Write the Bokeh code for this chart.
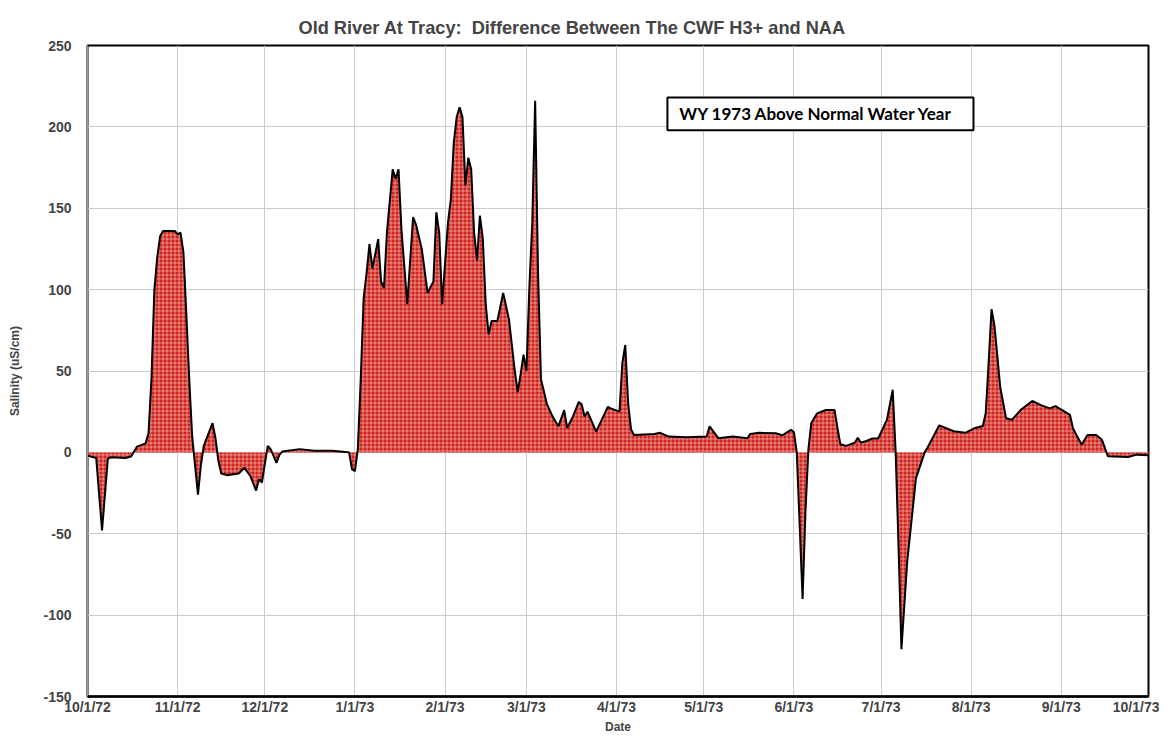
import pandas as pd
from bokeh.plotting import figure
from bokeh.models import FixedTicker, BoxAnnotation, Label, Range1d
from bokeh.embed import file_html
from bokeh.resources import INLINE

# ---- data -------------------------------------------------------------
wy_start = "1972-10-01"
# day offsets from 10/1/72 and salinity difference (uS/cm)
day_offset = [0, 3, 5, 7, 8, 13, 15, 17, 20, 21, 22, 23, 24, 25, 26, 30, 31, 32, 33,
              34, 35, 36, 38, 39, 40, 43, 44, 45, 46, 48, 52, 54, 56, 58, 59, 60, 62,
              63, 65, 66, 67, 73, 78, 84, 87, 90, 91, 92, 93, 94, 95, 96, 97, 98, 100,
              101, 102, 103, 105, 106, 107, 108, 110, 112, 113, 115, 117, 119, 120, 121,
              122, 124, 125, 126, 127, 128, 129, 130, 131, 132, 133, 134, 135, 136, 137,
              138, 139, 141, 143, 145, 147, 148, 149, 150, 151, 152, 153, 154, 155, 156,
              158, 160, 162, 164, 165, 167, 169, 170, 171, 172, 175, 179, 180, 183, 184,
              185, 186, 187, 188, 195, 197, 200, 206, 213, 214, 217, 222, 227, 228, 231,
              237, 239, 242, 243, 244, 246, 247, 248, 249, 251, 254, 257, 258, 259, 261,
              264, 265, 266, 268, 270, 272, 275, 277, 278, 279, 280, 282, 285, 288, 289,
              293, 298, 302, 305, 308, 309, 310, 311, 312, 314, 316, 318, 321, 325, 328,
              331, 333, 338, 339, 342, 344, 347, 349, 351, 358, 361, 365]
salinity_diff = [-2, -3.5, -48, -4, -3, -3.5, -2.5, 3.5, 5.5, 12, 45, 100, 120, 133, 136, 136, 134, 135, 123,
                 85, 45, 10, -26, -8, 4, 18, 9, -5, -13, -14, -13, -9.5, -14.5, -23.5, -16.5, -18.5, 4,
                 2, -6.5, -1.5, 0.5, 2, 1, 1, 0.5, 0, -10.5, -11.5, 2, 45, 95, 110, 128, 113, 131,
                 105, 101, 135, 174, 168, 174, 137, 91, 144.5, 140, 125, 98, 105, 147.5, 135,
                 91, 141, 155.6, 190, 206, 212, 206, 164, 181, 174, 135, 118, 145.5, 131, 91,
                 72.5, 80.7, 80.7, 98, 81.6, 50, 37, 48, 60, 50, 101, 141, 216, 110, 45,
                 30, 22, 16, 26, 15, 22, 31, 29.6, 22, 25, 12.8, 28, 27, 25, 55,
                 66, 30, 14, 10.7, 11.3, 12, 9.7, 9.3, 9.7, 16, 8.7, 9.7, 8.7, 11.3, 12,
                 11.7, 10.5, 13.8, 12.5, 0, -90, -36, 2, 18, 24, 26, 26, 15, 5, 4,
                 6, 9, 6, 7, 8.5, 8.5, 20, 38.5, 1, -57, -121, -67, -16, 0, 3,
                 16.6, 13, 12, 14.8, 16.2, 24, 55, 88, 78, 40, 21, 20, 26, 31.6, 29,
                 27, 28.4, 23, 14.8, 4.7, 10.7, 10.7, 7.7, -2.4, -2.8, -1.4, -1.8]

tick_dates = ["1972-10-01", "1972-11-01", "1972-12-01", "1973-01-01", "1973-02-01",
              "1973-03-01", "1973-04-01", "1973-05-01", "1973-06-01", "1973-07-01",
              "1973-08-01", "1973-09-01", "1973-10-01"]
tick_labels = ["10/1/72", "11/1/72", "12/1/72", "1/1/73", "2/1/73", "3/1/73", "4/1/73",
               "5/1/73", "6/1/73", "7/1/73", "8/1/73", "9/1/73", "10/1/73"]
y_ticks = [-150, -100, -50, 0, 50, 100, 150, 200, 250]

title_text = "Old River At Tracy:\u00a0 Difference Between The CWF H3+ and NAA"
note_text = "WY 1973 Above Normal Water Year"

# ---- build ------------------------------------------------------------
dates = pd.Timestamp(wy_start) + pd.to_timedelta(day_offset, unit="D")
tick_ms = [pd.Timestamp(d).value / 1e6 for d in tick_dates]

p = figure(width=1159, height=736, x_axis_type="datetime",
           output_backend="svg", toolbar_location=None,
           x_range=Range1d(pd.Timestamp(tick_dates[0]), pd.Timestamp(tick_dates[-1])),
           y_range=Range1d(-150, 250),
           min_border_left=87, min_border_right=11, min_border_top=45, min_border_bottom=0)

p.title.text = title_text
p.title.text_font = "Liberation Sans"
p.title.text_font_size = "18.2px"
p.title.text_font_style = "bold"
p.title.align = "left"
p.title.offset = 211
p.title.standoff = 16

p.varea(x=dates, y1=0, y2=salinity_diff, fill_color="#d2241c",
        hatch_pattern="+", hatch_color="white", hatch_scale=4, hatch_weight=0.8, hatch_alpha=0.55)
p.line(x=dates, y=salinity_diff, line_color="black", line_width=2)

# note box
box_left = pd.Timestamp("1973-04-18 12:00").value / 1e6
box_right = pd.Timestamp("1973-08-01 19:00").value / 1e6
p.add_layout(BoxAnnotation(left=box_left, right=box_right, bottom=198, top=218,
                           fill_color="white", fill_alpha=1, line_color="black",
                           line_alpha=1, line_width=2))
p.add_layout(Label(x=pd.Timestamp("1973-04-22 14:00").value / 1e6, y=208, text=note_text,
                   text_font="Lato", text_font_style="bold", text_font_size="17px",
                   text_baseline="middle", text_align="left", text_color="black"))

# axes
p.xaxis.ticker = FixedTicker(ticks=tick_ms)
p.xaxis.major_label_overrides = dict(zip(tick_ms, tick_labels))
p.yaxis.ticker = FixedTicker(ticks=y_ticks)
p.yaxis.major_label_overrides = {v: str(v) for v in y_ticks}
p.xaxis.axis_label = "Date"
p.yaxis.axis_label = "Salinity (uS/cm)"
for ax in (p.xaxis[0], p.yaxis[0]):
    ax.major_label_text_font = "Liberation Sans"
    ax.major_label_text_font_style = "bold"
    ax.major_label_text_font_size = "14px"
    ax.axis_label_text_font = "Liberation Sans"
    ax.axis_label_text_font_style = "bold"
    ax.axis_label_text_font_size = "12px"
    ax.major_tick_in = 0
    ax.major_tick_out = 0
    ax.minor_tick_in = 0
    ax.minor_tick_out = 0
p.xaxis.axis_line_color = "black"
p.xaxis.axis_line_width = 2.5
p.xaxis.major_label_standoff = 2
p.xaxis.axis_label_standoff = 2
p.yaxis.axis_line_color = "#9a9a9a"
p.yaxis.axis_line_width = 1
p.yaxis.major_label_standoff = 16
p.yaxis.axis_label_standoff = 18

p.outline_line_color = "black"
p.outline_line_width = 2
p.xgrid.grid_line_color = "#cccccc"
p.ygrid.grid_line_color = "#cccccc"
p.xgrid.ticker = FixedTicker(ticks=tick_ms)
p.ygrid.ticker = FixedTicker(ticks=y_ticks)
p.background_fill_color = "white"
p.border_fill_color = "white"

open("out.html", "w").write(file_html(p, INLINE))
